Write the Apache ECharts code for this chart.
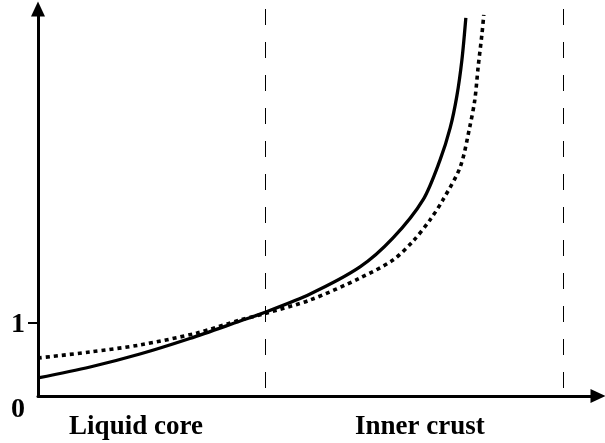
<!DOCTYPE html>
<html><head><meta charset="utf-8">
<script src="https://cdn.jsdelivr.net/npm/echarts@6/dist/echarts.min.js"></script>
<style>html,body{margin:0;padding:0;background:#fff}#c{width:605px;height:443px}</style>
</head><body><div id="c"></div>
<script>
var solidX = [0, 0.93, 1.82, 2.71, 3.61, 4.02, 4.86, 5.75, 6.34, 6.875, 7.18, 7.36, 7.48, 7.57, 7.64];
var solidY = [0.247, 0.397, 0.575, 0.788, 1.027, 1.137, 1.397, 1.767, 2.164, 2.685, 3.233, 3.671, 4.11, 4.603, 5.178];
var dotX = [0, 0.93, 1.82, 2.84, 3.61, 4.02, 4.86, 5.75, 6.34, 6.70, 7.0, 7.23, 7.54, 7.71, 7.80, 7.86, 7.93, 7.96];
var dotY = [0.52, 0.603, 0.699, 0.863, 1.041, 1.123, 1.315, 1.616, 1.863, 2.123, 2.411, 2.685, 3.137, 3.685, 4.055, 4.507, 4.973, 5.219];
var regionBounds = [4.05, 9.375];
var regionLabels = ['Liquid core', 'Inner crust'];
var regionLabelPos = [1.75, 6.82];
var yTickValues = [1];
var yLabelValues = [0, 1];

function pairs(xs, ys){ return xs.map(function(x,i){ return [x, ys[i]]; }); }
var font = 'Liberation Serif';
var chart = echarts.init(document.getElementById('c'), null, {renderer:'canvas'});
chart.setOption({
  animation: false,
  backgroundColor: '#fff',
  grid: {left: 38, right: 7, top: 9, bottom: 47, containLabel: false},
  xAxis: {
    type: 'value', min: 0, max: 10,
    splitLine: {show: false},
    axisLine: {show: true, onZero: false, symbol: ['none', 'triangle'], symbolSize: [14, 15],
      lineStyle: {color: '#000', width: 3}},
    axisTick: {show: false},
    axisLabel: {
      customValues: regionLabelPos, margin: 18,
      color: '#000', fontFamily: font, fontWeight: 'bold', fontSize: 27,
      formatter: function(v){ var i = regionLabelPos.indexOf(v); return i >= 0 ? regionLabels[i] : ''; }
    }
  },
  yAxis: {
    type: 'value', min: 0, max: 5.3,
    splitLine: {show: false},
    axisLine: {show: true, onZero: false, symbol: ['none', 'triangle'], symbolSize: [14, 15],
      lineStyle: {color: '#000', width: 3}},
    axisTick: {show: true, customValues: yTickValues, length: 10, lineStyle: {color: '#000', width: 2}},
    axisLabel: {
      customValues: yLabelValues, margin: 13,
      color: '#000', fontFamily: font, fontWeight: 'bold', fontSize: 28,
      formatter: function(v){ return v === 0 ? '{z|0}' : '{o|' + v + '}'; },
      rich: {
        z: {fontFamily: font, fontWeight: 'bold', fontSize: 28, color: '#000', padding: [28, 0, 0, 0]},
        o: {fontFamily: font, fontWeight: 'bold', fontSize: 28, color: '#000', padding: [4, 0, 0, 0]}
      }
    }
  },
  series: [
    {
      type: 'line', data: pairs(solidX, solidY), smooth: 0.3,
      symbol: 'none', lineStyle: {color: '#000', width: 3.3},
      markLine: {
        silent: true, symbol: 'none', label: {show: false},
        lineStyle: {color: '#000', width: 1, type: [16, 17], dashOffset: 25},
        data: regionBounds.map(function(b){ return {xAxis: b}; })
      }
    },
    {
      type: 'line', data: pairs(dotX, dotY), smooth: 0.3,
      symbol: 'none', lineStyle: {color: '#000', width: 3.6, type: [4, 4]}
    }
  ]
});
</script></body></html>
